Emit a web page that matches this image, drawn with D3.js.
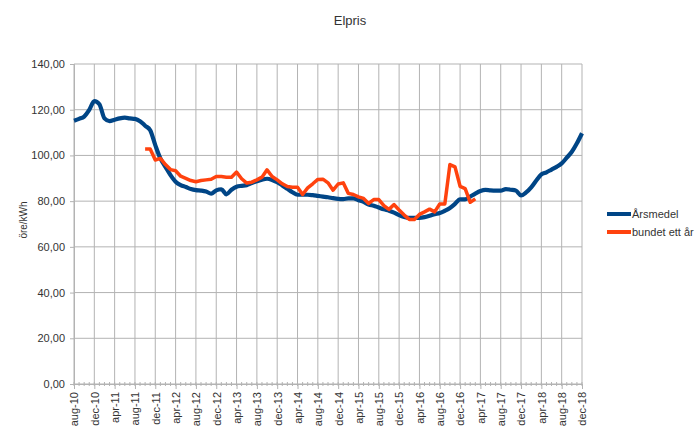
<!DOCTYPE html>
<html>
<head>
<meta charset="utf-8">
<script src="https://cdn.jsdelivr.net/npm/d3@7"></script>
<style>
  body { margin: 0; background: #fff; }
  text { font-family: "Liberation Sans", Arial, sans-serif; fill: #333; }
</style>
</head>
<body>
<svg></svg>
<script>
let w = 700;
let h = 439;

// Data (one value per month, aug-10 .. dec-18)
const tickLabels = ['aug-10','dec-10','apr-11','aug-11','dec-11','apr-12','aug-12','dec-12',
  'apr-13','aug-13','dec-13','apr-14','aug-14','dec-14','apr-15','aug-15','dec-15',
  'apr-16','aug-16','dec-16','apr-17','aug-17','dec-17','apr-18','aug-18','dec-18'];

const arsmedel = [
  115.2, 116, 117, 119.9, 123.8, 122.4, 116.2, 115, 115.6, 116.2, 116.5, 116.2,
  116, 115, 113, 111, 104.5, 98.7, 95, 91.4, 88.5, 87, 86.2, 85.3,
  84.8, 84.6, 84.2, 83.3, 84.7, 85.2, 83, 85, 86.3, 86.7, 87, 87.9,
  88.7, 89.4, 89.8, 89.3, 88.3, 86.9, 85.4, 83.9, 82.8, 82.8, 82.8, 82.6,
  82.3, 82, 81.7, 81.3, 81, 80.9, 81.2, 81.2, 80.4, 79.7, 78.5, 78,
  77.2, 76.4, 75.8, 75, 73.9, 73.1, 72.7, 72.7, 72.7, 73, 73.6, 74.3,
  74.8, 75.8, 77, 78.8, 80.8, 80.8, 82, 83.3, 84.4, 84.9, 84.7, 84.6,
  84.6, 85.3, 85, 84.6, 82.5, 83.8, 86, 89, 91.7, 92.6, 93.8, 95,
  96.5, 99, 101.6, 105.3, 109.7
];

const bundet = [
  null, null, null, null, null, null, null, null, null, null, null, null,
  null, null, 102.8, 102.8, 98, 98.7, 96, 93.8, 93.3, 90.9, 90, 89,
  88.5, 89, 89.3, 89.6, 90.8, 90.8, 90.5, 90.5, 92.7, 89.8, 87.9, 88.3,
  89.3, 90.5, 93.7, 90.8, 89.3, 87.6, 86.4, 86.1, 86.1, 82.9, 85.8, 87.6,
  89.5, 89.6, 88, 84.8, 87.5, 88, 83.4, 82.9, 81.9, 81.2, 79, 80.7,
  80.7, 78, 76.4, 78.5, 76.1, 73.9, 72, 72, 74.2, 75.3, 76.5, 75.3,
  78.8, 78.8, 96, 95, 86.5, 85.5, 79.5, 81
];

const yTicks = [0, 20, 40, 60, 80, 100, 120, 140];

const seriesNames = ['Årsmedel', 'bundet ett år'];
const colors = ['#004586', '#ff420e'];

const pLeft = 74, pRight = 582, pTop = 64, pBottom = 384;

const svg = d3.select('svg')
  .attr('width', w)
  .attr('height', h)

// Scales
const xScale = d3.scaleLinear()
  .domain([0, arsmedel.length - 1])
  .range([pLeft, pRight])

const yScale = d3.scaleLinear()
  .domain([0, 140])
  .range([pBottom, pTop])

// Grid
svg.append('g')
  .selectAll('line')
  .data(yTicks)
  .enter()
  .append('line')
  .attr('x1', pLeft).attr('x2', pRight)
  .attr('y1', d => yScale(d)).attr('y2', d => yScale(d))
  .style('stroke', '#b3b3b3')

const majorIdx = tickLabels.map((d, i) => i * 4)

svg.append('g')
  .selectAll('line')
  .data(majorIdx)
  .enter()
  .append('line')
  .attr('x1', d => xScale(d)).attr('x2', d => xScale(d))
  .attr('y1', pTop).attr('y2', pBottom)
  .style('stroke', '#b3b3b3')

// Axes
const yAxis = d3.axisLeft(yScale)
  .tickValues(yTicks)
  .tickSize(4)
  .tickPadding(5)
  .tickFormat(d => d3.format('.2f')(d).replace('.', ','))

const gy = svg.append('g')
  .attr('transform', 'translate(' + pLeft + ',0)')
  .call(yAxis)
gy.select('.domain').style('stroke', '#b3b3b3')
gy.selectAll('.tick line').style('stroke', '#b3b3b3')
gy.selectAll('text').style('font-size', '11px').style('fill', '#333')

// minor monthly ticks
svg.append('g')
  .selectAll('line')
  .data(d3.range(arsmedel.length))
  .enter()
  .append('line')
  .attr('x1', d => xScale(d)).attr('x2', d => xScale(d))
  .attr('y1', pBottom - 2).attr('y2', pBottom + 2)
  .style('stroke', '#b3b3b3')

const xAxis = d3.axisBottom(xScale)
  .tickValues(majorIdx)
  .tickSize(5)
  .tickPadding(4)
  .tickFormat((d, i) => tickLabels[i])

const gx = svg.append('g')
  .attr('transform', 'translate(0,' + pBottom + ')')
  .call(xAxis)
gx.select('.domain').style('stroke', '#b3b3b3')
gx.selectAll('.tick line').style('stroke', '#b3b3b3')
gx.selectAll('text')
  .style('font-size', '11px')
  .style('fill', '#333')
  .attr('text-anchor', 'end')
  .attr('transform', 'rotate(-90)')
  .attr('x', -8)
  .attr('y', 0)
  .attr('dy', '0.35em')

// Lines
const smooth = d3.line()
  .defined(d => d != null)
  .x((d, i) => xScale(i))
  .y(d => yScale(d))
  .curve(d3.curveMonotoneX)

const straight = d3.line()
  .defined(d => d != null)
  .x((d, i) => xScale(i))
  .y(d => yScale(d))

;[arsmedel, bundet].forEach((s, k) => {
  svg.append('path')
    .datum(s)
    .attr('d', k === 0 ? smooth : straight)
    .style('fill', 'none')
    .style('stroke', colors[k])
    .style('stroke-width', k === 0 ? 4.2 : 3.5)
    .style('stroke-linejoin', 'round')
})

// Title
svg.append('text')
  .attr('x', 350).attr('y', 25)
  .attr('text-anchor', 'middle')
  .style('font-size', '13px')
  .text('Elpris')

// y axis title
svg.append('text')
  .attr('transform', 'translate(27,' + ((pTop + pBottom) / 2 - 4) + ') rotate(-90)')
  .attr('text-anchor', 'middle')
  .style('font-size', '10px')
  .text('öre/kWh')

// Legend
const legend = svg.append('g')
  .selectAll('g')
  .data(seriesNames)
  .enter()
  .append('g')
  .attr('transform', (d, i) => 'translate(607,' + (214 + i * 18) + ')')

legend.append('line')
  .attr('x1', 0).attr('x2', 24)
  .style('stroke', (d, i) => colors[i])
  .style('stroke-width', 4)

legend.append('text')
  .attr('x', 25).attr('dy', '0.35em')
  .style('font-size', '11px')
  .text(d => d)
</script>
</body>
</html>
